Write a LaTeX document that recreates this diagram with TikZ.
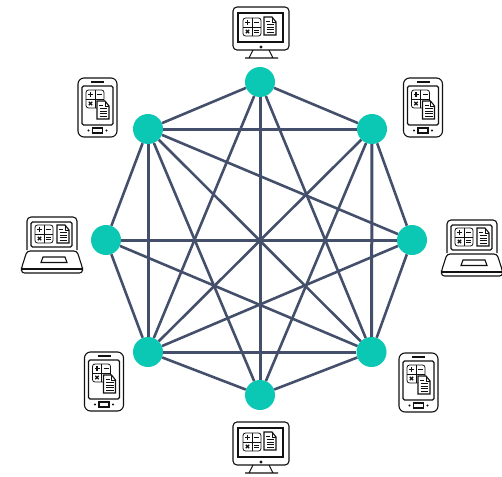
\documentclass[tikz,border=0pt]{standalone}
\usepackage[dvipsnames]{xcolor}
\usetikzlibrary{arrows, positioning}
\definecolor{linkblue}{HTML}{44506B}
\definecolor{peerteal}{HTML}{0BC8B4}
\definecolor{iconblack}{HTML}{111111}
\tikzset{
  peer/.style={circle, fill=peerteal, minimum size=30pt, inner sep=0pt},
  link/.style={draw=linkblue, line width=2.6pt},
  thicklink/.style={draw=linkblue, line width=3pt},
  icon/.style={draw=iconblack, line width=1.1pt},
  calcblock/.pic={
    \draw[icon, line width=.8pt, rounded corners=2.5pt] (0,0) rectangle (18,18);
    \draw[icon, line width=.8pt] (9,0) -- (9,18) (0,9) -- (18,9);
    \draw[icon] (2,4.5) -- (7,4.5) (4.5,2) -- (4.5,7);
    \draw[icon] (11,4.5) -- (16,4.5);
    \draw[icon] (2.8,11.8) -- (6.2,15.2) (2.8,15.2) -- (6.2,11.8);
    \draw[icon] (11,12.3) -- (16,12.3) (11,14.8) -- (16,14.8);
  },
  docsheet/.pic={
    \draw[icon, fill=white] (0,0) -- (8,0) -- (12,5) -- (12,18) -- (0,18) -- cycle;
    \draw[icon, line width=.6pt] (8,0) -- (8,5) -- (12,5);
    \draw[icon, line width=.8pt] (2,4.5) -- (6,4.5);
    \foreach \y in {7.5,10,12.5,15} {\draw[icon, line width=.8pt] (2.5,\y) -- (10,\y);}
  },
  monitor/.pic={
    \draw[icon, rounded corners=4pt] (-28,-25) rectangle (28,18);
    \draw[icon] (-23,-19) rectangle (22,10);
    \fill[iconblack] (0,15) circle (1.7pt);
    \draw[icon] (-8,18) -- (-12,26) (8,18) -- (12,26) (-16,26) -- (17,26);
    \pic at (-18,-14) {calcblock};
    \pic at (3,-15) {docsheet};
  },
  phone/.pic={
    \draw[icon, rounded corners=6pt] (-19.5,-29) rectangle (19.5,30);
    \draw[icon, rounded corners=1.5pt] (-15.5,-21) rectangle (15.5,18);
    \draw[icon] (-6.5,-25) -- (6.5,-25);
    \draw[icon] (-5,21) rectangle (5,26);
    \fill[iconblack] (-9,23.5) circle (1.1pt) (9,23.5) circle (1.1pt);
    \pic at (-11.5,-17) {calcblock};
    \pic at (-.5,-6) {docsheet};
  },
  laptop/.pic={
    \draw[icon, rounded corners=4pt] (-25,5) -- (-25,-28) -- (25,-28) -- (25,5);
    \draw[icon, rounded corners=1.5pt] (-21,-23) rectangle (20,2);
    \draw[icon, rounded corners=3pt] (-25,6) -- (-30.5,23) -- (-30.5,28) -- (30.5,28) -- (30.5,23) -- (25,6) -- cycle;
    \draw[icon] (-30,24) -- (30,24);
    \draw[icon] (-9,12) -- (13,12) -- (15,17.5) -- (-11,17.5) -- cycle;
    \pic at (-17,-20) {calcblock};
    \pic at (5,-20) {docsheet};
  },
}

\begin{document}
\begin{tikzpicture}[x=1pt,y=-1pt]
\useasboundingbox (0,0) rectangle (502,476);

\node[peer] (A) at (260,82) {};
\node[peer] (B) at (372,129) {};
\node[peer] (C) at (412,240) {};
\node[peer] (D) at (371.5,352) {};
\node[peer] (E) at (260,395) {};
\node[peer] (F) at (148,352) {};
\node[peer] (G) at (106,240) {};
\node[peer] (H) at (148,129) {};

% ring
\path[link] (A) edge (B) (B) edge (C) (C) edge (D) (D) edge (E);
\path[link] (E) edge (F) (F) edge (G) (G) edge (H) (H) edge (A);
% square
\path[thicklink] (H) edge (B) (B) edge (D) (D) edge (F) (F) edge (H);
% through the middle
\path[thicklink] (A) edge (E) (C) edge (G);
\path[link] (B) edge (F) (D) edge (H);
% the rest
\path[link] (A) edge (F) (A) edge (D) (E) edge (H) (E) edge (B);
\path[link] (H) edge (C) (F) edge (C) (G) edge (D);

\pic (monA) at (261,32) {monitor};
\pic (monE) at (261,447) {monitor};
\pic (phoneH) at (97.5,107) {phone};
\pic (phoneB) at (423,107) {phone};
\pic (phoneF) at (104,381) {phone};
\pic (phoneD) at (418.5,382) {phone};
\pic (lapG) at (52,245) {laptop};
\pic (lapC) at (472,248) {laptop};
\end{tikzpicture}
\end{document}
